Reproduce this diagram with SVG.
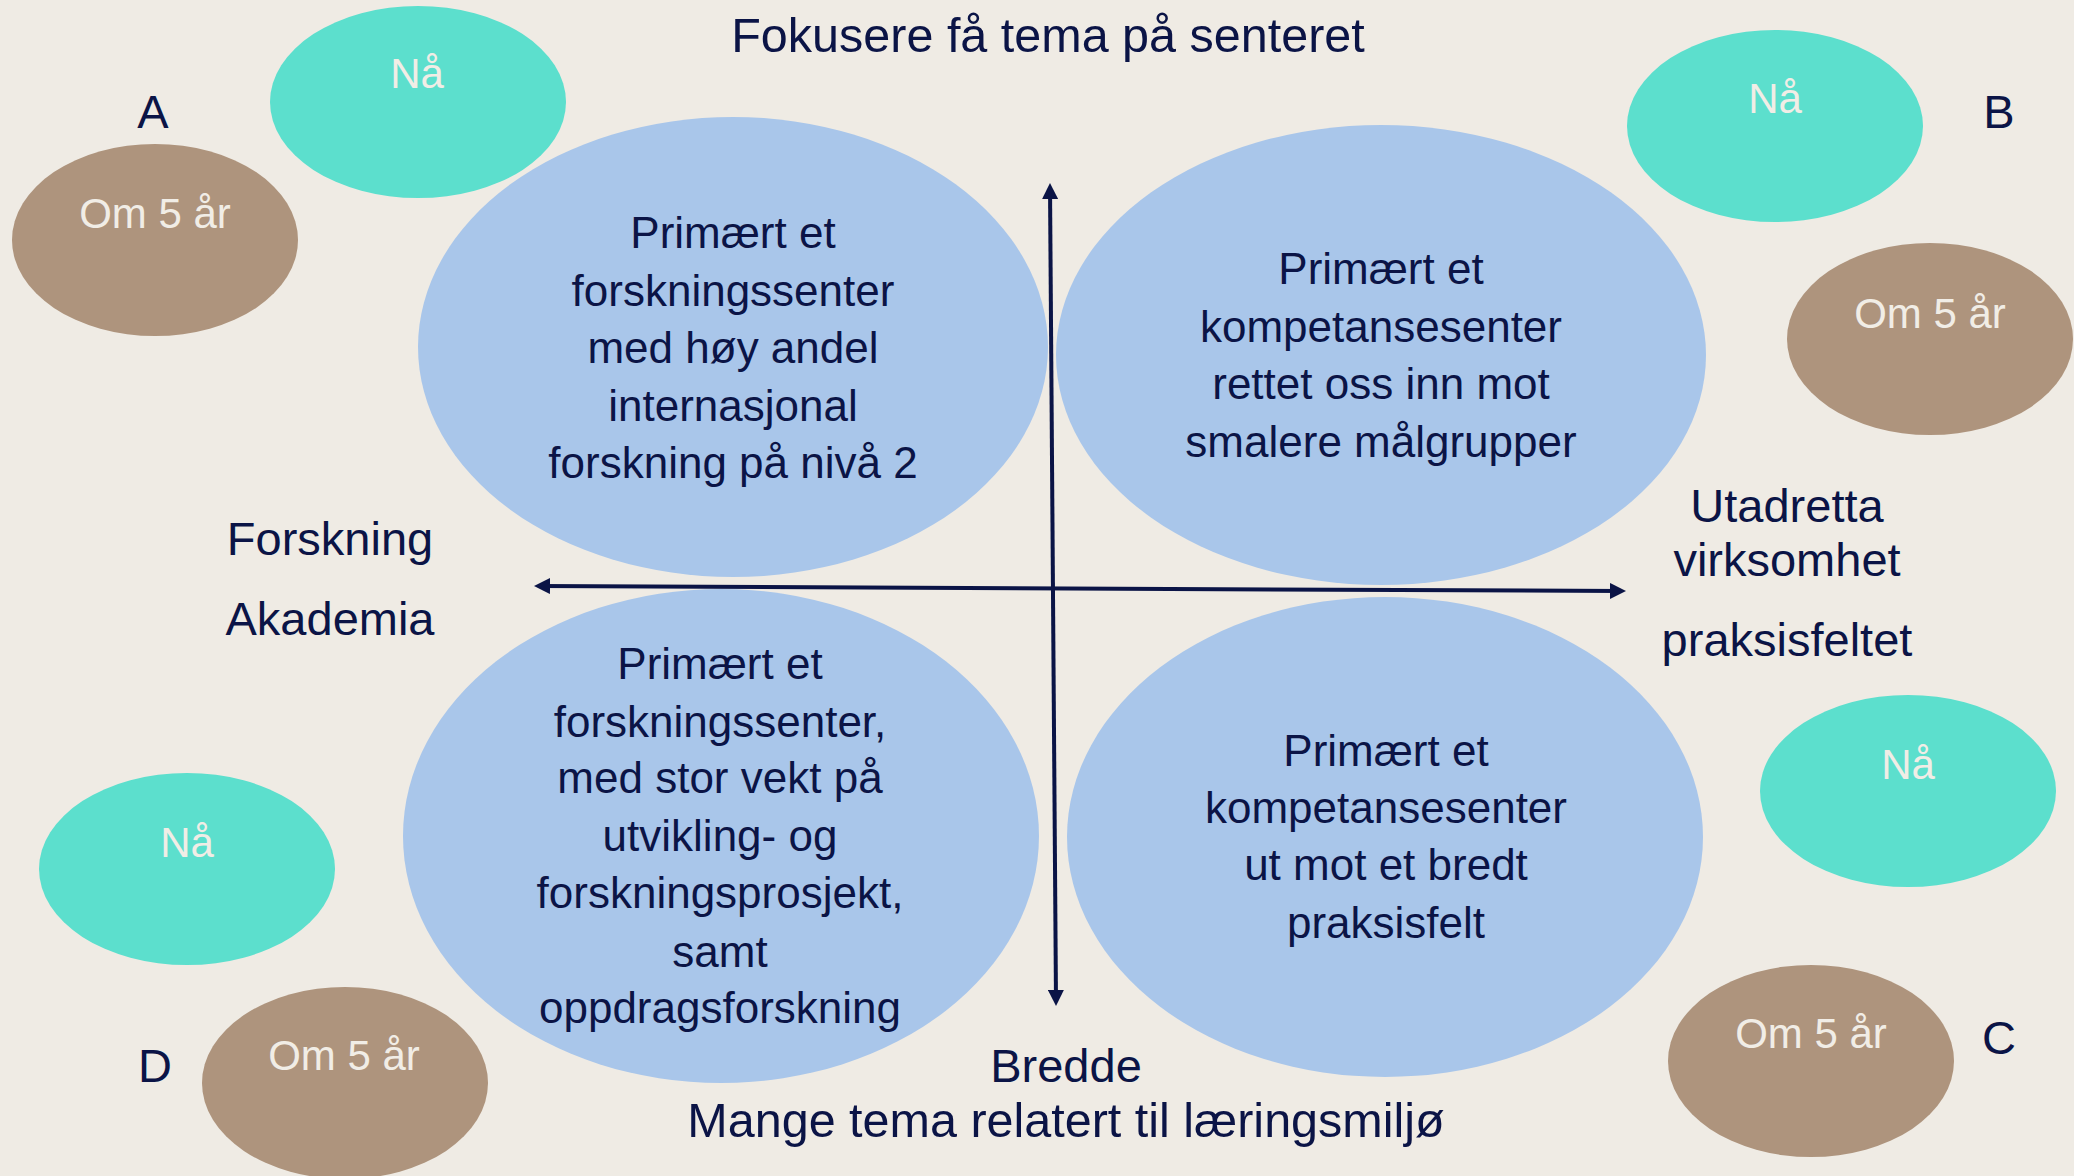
<svg xmlns="http://www.w3.org/2000/svg" width="2074" height="1176" viewBox="0 0 2074 1176">
<defs>
<style>
.bg{fill:#efebe4}
.now{fill:#5cdfcd}
.later{fill:#ae947d}
.quad{fill:#a9c6ea}
text{font-family:"Liberation Sans",Arial,sans-serif;text-anchor:middle}
.lt{fill:#f1ede6;font-size:42px}
.dk{fill:#0b1446;font-size:44px}
.lbl{fill:#0b1446;font-size:47px}
.big{fill:#0b1446;font-size:48.5px}
.ax{stroke:#0b1446;stroke-width:4;fill:none}
</style>
<marker id="ah" viewBox="0 0 16 16" refX="12" refY="8" markerWidth="16" markerHeight="16" markerUnits="userSpaceOnUse" orient="auto-start-reverse">
<path d="M0,0 L16,8 L0,16 z" fill="#0b1446"/>
</marker>
</defs>
<rect class="bg" x="0" y="0" width="2074" height="1176"/>

<g id="title-top"><text class="big" x="1048" y="52">Fokusere få tema på senteret</text></g>
<g id="title-bottom">
<text class="lbl" x="1066" y="1082">Bredde</text>
<text class="big" x="1066" y="1137">Mange tema relatert til læringsmiljø</text>
</g>
<g id="label-left">
<text class="lbl" x="330" y="555">Forskning</text>
<text class="lbl" x="330" y="635">Akademia</text>
</g>
<g id="label-right">
<text class="lbl" x="1787" y="522">Utadretta</text>
<text class="lbl" x="1787" y="576">virksomhet</text>
<text class="lbl" x="1787" y="656">praksisfeltet</text>
</g>

<g id="quad-tl">
<ellipse class="quad" cx="733" cy="347" rx="315" ry="230"/>
<text class="dk" x="733" y="248">Primært et</text>
<text class="dk" x="733" y="306">forskningssenter</text>
<text class="dk" x="733" y="363">med høy andel</text>
<text class="dk" x="733" y="421">internasjonal</text>
<text class="dk" x="733" y="478">forskning på nivå 2</text>
</g>
<g id="quad-tr">
<ellipse class="quad" cx="1381" cy="355" rx="325" ry="230"/>
<text class="dk" x="1381" y="284">Primært et</text>
<text class="dk" x="1381" y="342">kompetansesenter</text>
<text class="dk" x="1381" y="399">rettet oss inn mot</text>
<text class="dk" x="1381" y="457">smalere målgrupper</text>
</g>
<g id="quad-bl">
<ellipse class="quad" cx="721" cy="836" rx="318" ry="247"/>
<text class="dk" x="720" y="679">Primært et</text>
<text class="dk" x="720" y="737">forskningssenter,</text>
<text class="dk" x="720" y="793">med stor vekt på</text>
<text class="dk" x="720" y="851">utvikling- og</text>
<text class="dk" x="720" y="908">forskningsprosjekt,</text>
<text class="dk" x="720" y="967">samt</text>
<text class="dk" x="720" y="1023">oppdragsforskning</text>
</g>
<g id="quad-br">
<ellipse class="quad" cx="1385" cy="837" rx="318" ry="240"/>
<text class="dk" x="1386" y="766">Primært et</text>
<text class="dk" x="1386" y="823">kompetansesenter</text>
<text class="dk" x="1386" y="880">ut mot et bredt</text>
<text class="dk" x="1386" y="938">praksisfelt</text>
</g>

<g id="group-a">
<text class="lbl" x="153" y="128">A</text>
</g>
<g id="a-now"><ellipse class="now" cx="418" cy="102" rx="148" ry="96"/><text class="lt" x="417" y="88">Nå</text></g>
<g id="a-later"><ellipse class="later" cx="155" cy="240" rx="143" ry="96"/><text class="lt" x="155" y="228">Om 5 år</text></g>

<g id="group-b"><text class="lbl" x="1999" y="128">B</text></g>
<g id="b-now"><ellipse class="now" cx="1775" cy="126" rx="148" ry="96"/><text class="lt" x="1775" y="113">Nå</text></g>
<g id="b-later"><ellipse class="later" cx="1930" cy="339" rx="143" ry="96"/><text class="lt" x="1930" y="328">Om 5 år</text></g>

<g id="group-c"><text class="lbl" x="1999" y="1054">C</text></g>
<g id="c-now"><ellipse class="now" cx="1908" cy="791" rx="148" ry="96"/><text class="lt" x="1908" y="779">Nå</text></g>
<g id="c-later"><ellipse class="later" cx="1811" cy="1061" rx="143" ry="96"/><text class="lt" x="1811" y="1048">Om 5 år</text></g>

<g id="group-d"><text class="lbl" x="155" y="1082">D</text></g>
<g id="d-now"><ellipse class="now" cx="187" cy="869" rx="148" ry="96"/><text class="lt" x="187" y="857">Nå</text></g>
<g id="d-later"><ellipse class="later" cx="345" cy="1083" rx="143" ry="96"/><text class="lt" x="344" y="1070">Om 5 år</text></g>

<g id="connectors">
<line class="ax" x1="538" y1="586" x2="1622" y2="591" marker-start="url(#ah)" marker-end="url(#ah)"/>
<line class="ax" x1="1050" y1="187" x2="1056" y2="1002" marker-start="url(#ah)" marker-end="url(#ah)"/>
</g>
</svg>
